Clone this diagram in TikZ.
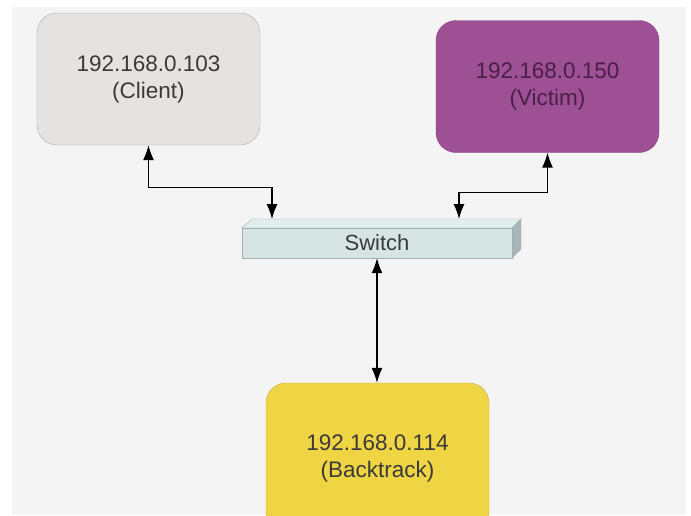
\documentclass[tikz,border=0pt]{standalone}
\usepackage{fontspec}
\setmainfont{Liberation Sans}
\usetikzlibrary{arrows.meta}

\definecolor{fondgris}{HTML}{F4F4F4}
\definecolor{clientfill}{HTML}{E5E3E2}
\definecolor{clientbord}{HTML}{B2B0AE}
\definecolor{victimfill}{HTML}{9D5094}
\definecolor{victimbord}{HTML}{8A4282}
\definecolor{victimtext}{HTML}{4A1F48}
\definecolor{btfill}{HTML}{EFD443}
\definecolor{btbord}{HTML}{C4AE50}
\definecolor{swfront}{HTML}{D6E4E4}
\definecolor{swtop}{HTML}{E2EDED}
\definecolor{swside}{HTML}{A9B6B6}
\definecolor{swbord}{HTML}{A3B0B0}
\definecolor{texte}{HTML}{3A3A3A}

\begin{document}
\begin{tikzpicture}[x=1pt,y=-1pt]
% Styles
 \tikzstyle{machine}=[rectangle,rounded corners=20pt,minimum width=223pt,
      minimum height=132pt,align=center,text=texte,
      font=\fontsize{22.5}{27}\selectfont]
 \tikzstyle{lien}=[<->,>={Latex[length=15pt,width=11pt]},line width=1.2pt,black]
% Fond
 \clip (0,0) rectangle (691,515);
 \fill[white] (0,0) rectangle (691,515);
 \fill[fondgris] (12,7) rectangle (686,515);
% Machines
 \node[machine,fill=clientfill,draw=clientbord] (client) at (148.5,79)
      {192.168.0.103\\(Client)};
 \node[machine,fill=victimfill,draw=victimbord,text=victimtext] (victim) at (547.5,86.5)
      {192.168.0.150\\(Victim)};
 \node[machine,fill=btfill,draw=btbord,minimum height=150pt] (backtrack) at (377.5,458)
      {192.168.0.114\\(Backtrack)};
% Switch
 \fill[swtop,draw=swbord] (242,228) -- (252,219) -- (521,219) -- (512,228) -- cycle;
 \fill[swside,draw=swbord] (512,228) -- (521,219) -- (521,249) -- (512,258) -- cycle;
 \node[rectangle,fill=swfront,draw=swbord,minimum width=270pt,minimum height=30pt,
      inner sep=0pt,text=texte,font=\fontsize{22}{24}\selectfont] (switch) at (377,243) {Switch};
 \coordinate (swgauche) at (272,219);
 \coordinate (swdroite) at (459,219);
% Liens
 \draw[lien] (client.south) -- ++(0,42) -| (swgauche);
 \draw[lien] (victim.south) -- ++(0,40) -| (swdroite);
 \draw[lien] (switch.south) -- (backtrack.north -| switch.south);
\end{tikzpicture}
\end{document}
